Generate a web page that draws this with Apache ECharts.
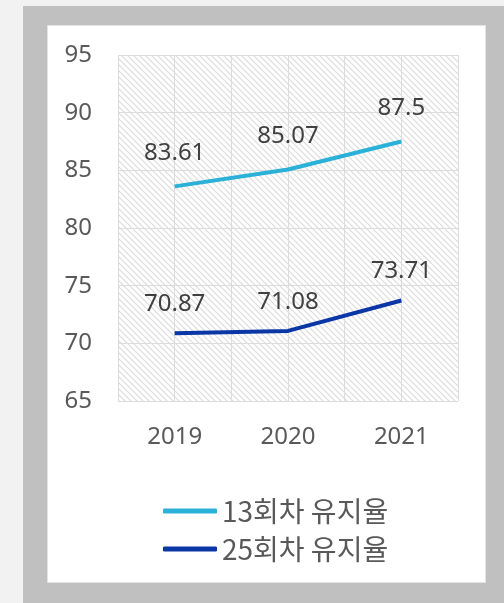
<!DOCTYPE html>
<html>
<head>
<meta charset="utf-8">
<script src="https://cdn.jsdelivr.net/npm/echarts@6/dist/echarts.min.js"></script>
<style>
  html, body { margin: 0; padding: 0; background: #f2f2f2; }
  #frame { position: absolute; left: 23px; top: 6px; width: 481px; height: 597px; background: #c0c0c0; }
  #panel { position: absolute; left: 47px; top: 25px; width: 437px; height: 556px; background: #fff; border: 1px solid #e2e2e2; }
  #main { position: absolute; left: 0; top: 0; width: 504px; height: 603px; }
</style>
</head>
<body>
<div id="frame"></div>
<div id="panel"></div>
<div id="main"></div>
<script>
var years = ['2019', '2020', '2021'];
var rate13 = [83.61, 85.07, 87.5];
var rate25 = [70.87, 71.08, 73.71];
var seriesNames = ['13회차 유지율', '25회차 유지율'];

// 빗금 패턴
var pat = document.createElement('canvas');
pat.width = 6; pat.height = 6;
var ctx = pat.getContext('2d');
ctx.fillStyle = '#ffffff';
ctx.fillRect(0, 0, 6, 6);
ctx.strokeStyle = '#dadada';
ctx.lineWidth = 1.1;
ctx.beginPath();
ctx.moveTo(-1, -1); ctx.lineTo(7, 7);
ctx.moveTo(-1, 5); ctx.lineTo(1, 7);
ctx.moveTo(5, -1); ctx.lineTo(7, 1);
ctx.stroke();

var chart = echarts.init(document.getElementById('main'));
var font = "'Noto Sans', 'Noto Sans CJK KR', sans-serif";

var option = {
    backgroundColor: 'transparent',
    textStyle: { fontFamily: font },
    grid: {
        left: 118, top: 55, right: 46, bottom: 202,
        show: true,
        backgroundColor: { image: pat, repeat: 'repeat' },
        borderWidth: 0
    },
    legend: {
        orient: 'vertical',
        left: 158,
        top: 491,
        itemWidth: 54,
        itemHeight: 5,
        itemGap: 8,
        icon: 'roundRect',
        textStyle: { fontSize: 28, color: '#595959', fontFamily: "'Noto Sans CJK KR', sans-serif", lineHeight: 30 },
        data: seriesNames
    },
    xAxis: [{
        type: 'category',
        data: years,
        boundaryGap: true,
        axisLine: { show: false },
        axisTick: { show: false },
        axisLabel: { fontSize: 24, color: '#595959', margin: 24 },
        splitLine: { show: false }
    }, {
        type: 'value',
        min: 0, max: 6, interval: 1,
        show: true,
        axisLine: { show: false },
        axisTick: { show: false },
        axisLabel: { show: false },
        splitLine: { show: true, lineStyle: { color: '#dcdcdc', width: 1 } }
    }],
    yAxis: {
        type: 'value',
        min: 65, max: 95, interval: 5,
        axisLine: { show: false },
        axisTick: { show: false },
        axisLabel: { fontSize: 24, color: '#595959', margin: 26 },
        splitLine: { show: true, lineStyle: { color: '#dcdcdc', width: 1 } }
    },
    series: [{
        name: seriesNames[0],
        type: 'line',
        data: rate13,
        symbol: 'circle',
        symbolSize: 0.1,
        itemStyle: { color: '#2bb1d7' },
        lineStyle: { width: 4, color: '#2bb1d7' },
        label: { show: true, position: 'top', distance: 21, fontSize: 24, color: '#404040' }
    }, {
        name: seriesNames[1],
        type: 'line',
        data: rate25,
        symbol: 'circle',
        symbolSize: 0.1,
        itemStyle: { color: '#0a36a6' },
        lineStyle: { width: 4, color: '#0a36a6' },
        label: { show: true, position: 'top', distance: 17, fontSize: 24, color: '#404040' }
    }]
};
chart.setOption(option);
</script>
</body>
</html>
